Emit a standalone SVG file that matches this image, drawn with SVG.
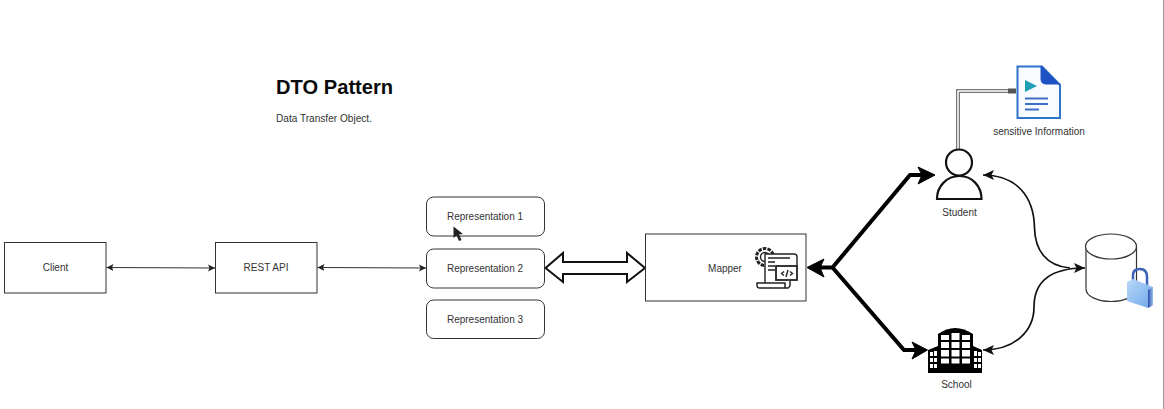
<svg xmlns="http://www.w3.org/2000/svg" width="1164" height="409" viewBox="0 0 1164 409">
<style>
text{font-family:"Liberation Sans",Arial,sans-serif;fill:#333;font-size:10px;text-anchor:middle}
.box{fill:#fff;stroke:#333;stroke-width:1}
.thin{fill:none;stroke:#333;stroke-width:1;marker-start:url(#smallS);marker-end:url(#small)}
.thick{fill:none;stroke:#000;stroke-width:4;stroke-linejoin:miter}
.curve{fill:none;stroke:#111;stroke-width:1.700;marker-end:url(#curve)}
.ic{fill:none;stroke:#222;stroke-width:1.400}
</style>
<defs>
<marker id="small" markerUnits="userSpaceOnUse" markerWidth="8" markerHeight="8" refX="7" refY="4" orient="auto"><path d="M0,0.500L7,4L0,7.500L1.500,4Z" fill="#222"/></marker>
<marker id="smallS" markerUnits="userSpaceOnUse" markerWidth="8" markerHeight="8" refX="1" refY="4" orient="auto"><path d="M8,0.500L1,4L8,7.500L6.500,4Z" fill="#222"/></marker>
<marker id="curve" markerUnits="userSpaceOnUse" markerWidth="12" markerHeight="12" refX="11" refY="6" orient="auto"><path d="M0,1L11,6L0,11L2.500,6Z" fill="#111"/></marker>
<linearGradient id="lockG" x1="0" y1="0" x2="1" y2="1"><stop offset="0" stop-color="#b9d8f7"/><stop offset="1" stop-color="#6fa8ea"/></linearGradient>
<linearGradient id="lockS" x1="0" y1="0" x2="1" y2="0"><stop offset="0" stop-color="#2a4aa8"/><stop offset="1" stop-color="#9cc4f0"/></linearGradient>
</defs>
<rect width="1164" height="409" fill="#fff"/>
<rect x="1163" y="0" width="1" height="409" fill="#9a9a9a"/>
<g id="title">
<text x="276" y="94" style="text-anchor:start;font-size:20.150px;font-weight:bold;fill:#0a0a0a">DTO Pattern</text>
<text x="276" y="122" style="text-anchor:start;font-size:10.100px">Data Transfer Object.</text>
</g>
<g id="connectors">
<path class="thin" d="M106.500,267.500L215,268"/>
<path class="thin" d="M317.500,267.500L426,268"/>
<path d="M545.500,268L563,253V262H627V253L645,268L627,282V274H563V282Z" fill="#fff" stroke="#111" stroke-width="2"/>
<path class="thick" d="M820,267.500H832.500L910,175H924"/>
<path class="thick" d="M832.500,267.500L904,350H918"/>
<path d="M807,267.500L824,259L820,267.500L824,277Z" fill="#000" stroke="#000" stroke-width="1"/>
<path d="M935,175L918,167L922,175L918,184Z" fill="#000" stroke="#000" stroke-width="1"/>
<path d="M927.500,350L912,342L916,350L912,359Z" fill="#000" stroke="#000" stroke-width="1"/>
<path class="curve" d="M1070,268C1046,266 1035,250 1034.500,228C1034,196 1016,175 983,175"/>
<path class="curve" d="M1034,307C1034,330 1016,350 983,350"/>
<path class="curve" d="M1034,307C1034,284 1048,268 1085,268"/>
<path d="M958,151V91H1010" fill="none" stroke="#777" stroke-width="4"/>
<path d="M958,151V91H1010" fill="none" stroke="#fff" stroke-width="1.500"/>
<rect x="1008" y="88.500" width="8" height="5" fill="#555"/>
</g>
<g id="client"><rect class="box" x="4.500" y="242.500" width="101.500" height="50.500"/><text x="55.500" y="271">Client</text></g>
<g id="rest-api"><rect class="box" x="215.500" y="242.500" width="101.500" height="50.500"/><text x="266" y="271">REST API</text></g>
<g id="representation-1"><rect class="box" x="426.500" y="197" width="118" height="39" rx="7"/><text x="485" y="220">Representation 1</text></g>
<g id="representation-2"><rect class="box" x="426.500" y="249" width="118" height="39" rx="7"/><text x="485" y="272">Representation 2</text></g>
<g id="representation-3"><rect class="box" x="426.500" y="300" width="118" height="38.500" rx="7"/><text x="485" y="323">Representation 3</text></g>
<g id="mapper">
<rect class="box" x="645.500" y="234" width="160.500" height="67"/>
<text x="725" y="272">Mapper</text>
<g class="ic">
<circle cx="765" cy="257" r="8.500" stroke-width="3" stroke-dasharray="3.500 1.200"/>
<circle cx="765" cy="257" r="4.500"/>
<path d="M765,283V254H794a3,3 0 0 1 3,3V266" fill="#fff"/>
<path d="M768,258H790M768,262H775M768,266H775M768,270H775" stroke-width="1.600"/>
<rect x="776" y="266" width="21" height="14" fill="#fff" stroke-width="1.800"/>
<path d="M784,271.500l-2.500,2l2.500,2M790,271.500l2.500,2l-2.500,2M788,270l-2,7"/>
<path d="M757,283H785V288H760a2.500,2.500 0 0 1 -3,-2.500ZM785,283V288H788a3,3 0 0 0 2,-3V280" fill="#fff" stroke-width="1.500"/>
</g>
</g>
<g id="student">
<circle cx="959" cy="162.500" r="13" fill="#fff" stroke="#111" stroke-width="2.200"/>
<path d="M937,199C937,186 947,176 959.500,176C972,176 981.500,186 981.500,199Z" fill="#fff" stroke="#111" stroke-width="2.200"/>
<text x="959.500" y="215.500">Student</text>
</g>
<g id="sensitive-information">
<path d="M1017.500,66.500H1042L1060,85V118H1017.500Z" fill="#f8fbff" stroke="#2f74c8" stroke-width="2"/>
<path d="M1041,66L1060,85V84H1046Q1041,84 1041,79Z" fill="#1d52c4" stroke="#1d52c4"/>
<path d="M1025,80L1037,86L1025,92Z" fill="#1f9fb5"/>
<path d="M1025,98.500H1048M1025,104H1048M1025,109.500H1039" stroke="#3f6fc8" stroke-width="2"/>
<text x="1039" y="134.500">sensitive Information</text>
</g>
<g id="school">
<path d="M938,369V334Q955,322 973,334V369Z" fill="#000"/>
<path d="M928,373V350L938,346V369H973V346L982,350V373Z" fill="#000"/>
<g fill="#fff">
<rect x="941" y="335" width="8" height="5"/><rect x="951.500" y="333" width="8" height="7"/><rect x="962" y="335" width="8" height="5"/>
<rect x="941" y="342" width="8" height="6"/><rect x="951.500" y="342" width="8" height="6"/><rect x="962" y="342" width="8" height="6"/>
<rect x="941" y="350" width="8" height="6.500"/><rect x="951.500" y="350" width="8" height="6.500"/><rect x="962" y="350" width="8" height="6.500"/>
<rect x="941" y="358.500" width="8" height="5"/><rect x="951.500" y="358.500" width="8" height="5"/><rect x="962" y="358.500" width="8" height="5"/>
<rect x="930" y="352" width="3" height="4"/><rect x="934" y="351" width="3" height="5"/>
<rect x="930" y="358" width="3" height="4"/><rect x="934" y="358" width="3" height="4"/>
<rect x="930" y="364" width="3" height="4"/><rect x="934" y="364" width="3" height="4"/>
<rect x="974" y="351" width="3" height="5"/><rect x="978" y="352" width="3" height="4"/>
<rect x="974" y="358" width="3" height="4"/><rect x="978" y="358" width="3" height="4"/>
<rect x="974" y="364" width="3" height="4"/><rect x="978" y="364" width="3" height="4"/>
</g>
<text x="956.500" y="387.500">School</text>
</g>
<g id="database">
<path d="M1086,247V289C1086,296 1097,301.500 1111,301.500C1125,301.500 1136.500,296 1136.500,289V247" fill="#fff" stroke="#333" stroke-width="1.200"/>
<ellipse cx="1111" cy="246.500" rx="25.500" ry="12.500" fill="#fff" stroke="#333" stroke-width="1.200"/>
<path d="M1133,281V275Q1133,269 1140,269Q1147,269 1147,277V288" fill="none" stroke="#3a62b8" stroke-width="2.500"/>
<path d="M1127,282L1133,279L1153,287V305L1148,308L1127,301Z" fill="url(#lockG)"/>
<path d="M1148,290L1153,287V305L1148,308Z" fill="url(#lockS)"/>
</g>
<path id="cursor" d="M453.500,226.500V238L456.500,235.500L459,241L461.500,240L459,234.500L463,234Z" fill="#222"/>
</svg>
